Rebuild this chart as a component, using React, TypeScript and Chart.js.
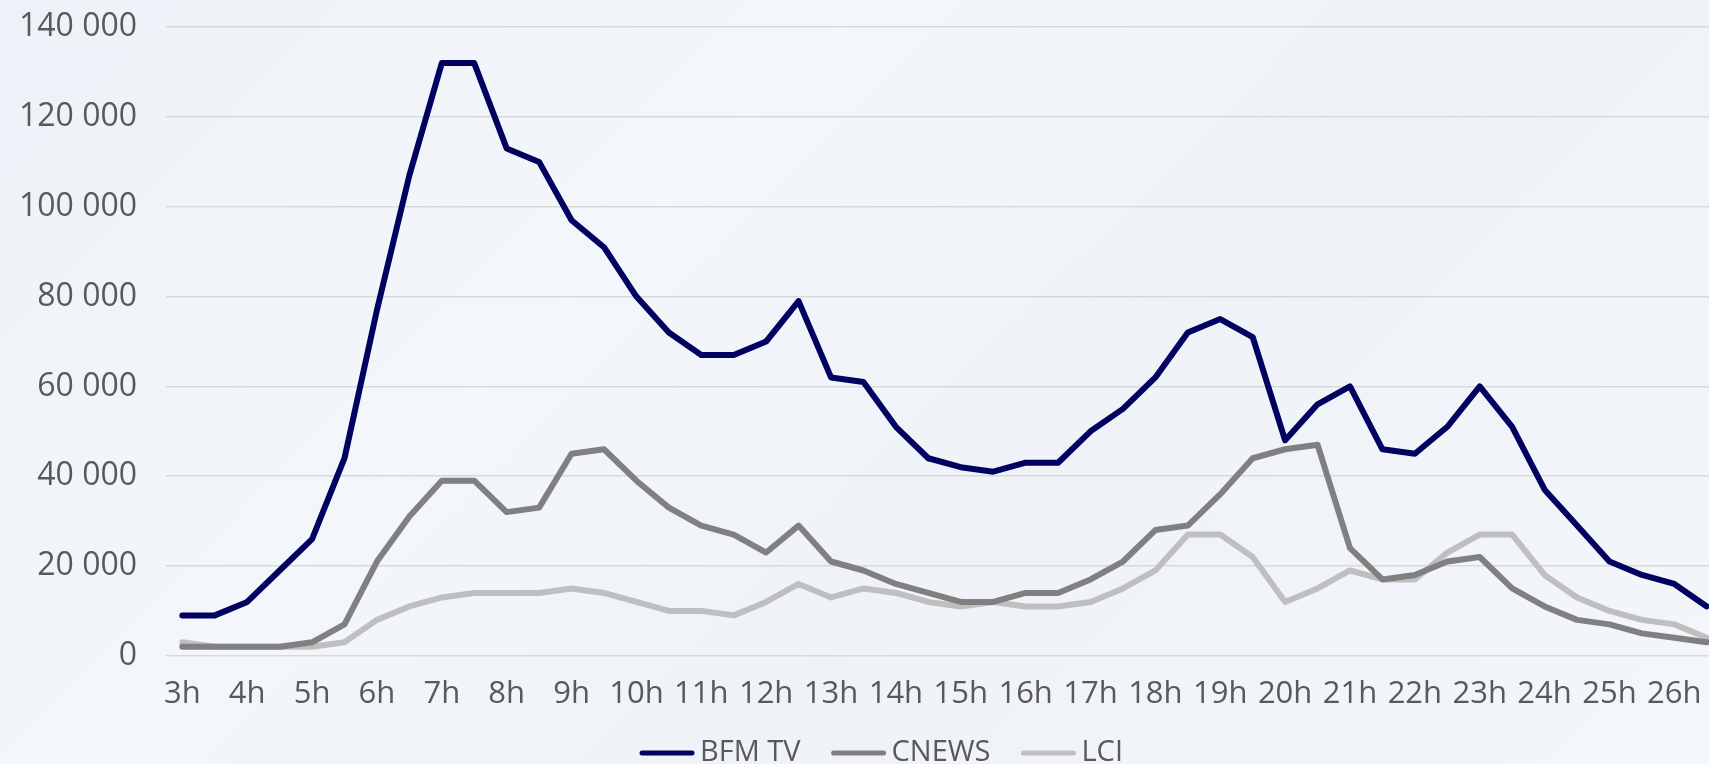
import React, { useEffect, useRef } from "react";
import { Chart, registerables } from "chart.js";

Chart.register(...registerables);

const categories = [
  "3h", "3h30", "4h", "4h30", "5h", "5h30", "6h", "6h30", "7h", "7h30",
  "8h", "8h30", "9h", "9h30", "10h", "10h30", "11h", "11h30", "12h", "12h30",
  "13h", "13h30", "14h", "14h30", "15h", "15h30", "16h", "16h30", "17h", "17h30",
  "18h", "18h30", "19h", "19h30", "20h", "20h30", "21h", "21h30", "22h", "22h30",
  "23h", "23h30", "24h", "24h30", "25h", "25h30", "26h", "26h30",
];

const bfmTV = [
  9000, 9000, 12000, 19000, 26000, 44000, 77000, 107000, 132000, 132000,
  113000, 110000, 97000, 91000, 80000, 72000, 67000, 67000, 70000, 79000,
  62000, 61000, 51000, 44000, 42000, 41000, 43000, 43000, 50000, 55000,
  62000, 72000, 75000, 71000, 48000, 56000, 60000, 46000, 45000, 51000,
  60000, 51000, 37000, 29000, 21000, 18000, 16000, 11000,
];

const cnews = [
  2000, 2000, 2000, 2000, 3000, 7000, 21000, 31000, 39000, 39000,
  32000, 33000, 45000, 46000, 39000, 33000, 29000, 27000, 23000, 29000,
  21000, 19000, 16000, 14000, 12000, 12000, 14000, 14000, 17000, 21000,
  28000, 29000, 36000, 44000, 46000, 47000, 24000, 17000, 18000, 21000,
  22000, 15000, 11000, 8000, 7000, 5000, 4000, 3000,
];

const lci = [
  3000, 2000, 2000, 2000, 2000, 3000, 8000, 11000, 13000, 14000,
  14000, 14000, 15000, 14000, 12000, 10000, 10000, 9000, 12000, 16000,
  13000, 15000, 14000, 12000, 11000, 12000, 11000, 11000, 12000, 15000,
  19000, 27000, 27000, 22000, 12000, 15000, 19000, 17000, 17000, 23000,
  27000, 27000, 18000, 13000, 10000, 8000, 7000, 4000,
];

const seriesNames = ["BFM TV", "CNEWS", "LCI"];
const seriesColors = ["#01015f", "#808080", "#bfbfbf"];

const FONT = "'Open Sans', sans-serif";

const formatThousands = (v: number) =>
  String(v).replace(/\B(?=(\d{3})+(?!\d))/g, " ");

// Legend drawn with line swatches, centred on the canvas
const lineLegend = {
  id: "lineLegend",
  afterDraw(chart: any) {
    const ctx = chart.ctx;
    const lineLen = 56;
    const gapText = 5;
    const gapItem = 30;
    const y = chart.height - 11;
    ctx.save();
    ctx.font = `29px ${FONT}`;
    ctx.textBaseline = "middle";
    ctx.textAlign = "left";
    const items = chart.data.datasets.map((ds: any) => ({
      text: ds.label,
      color: ds.borderColor,
      w: ctx.measureText(ds.label).width,
    }));
    const total =
      items.reduce((s: number, it: any) => s + lineLen + gapText + it.w, 0) +
      gapItem * (items.length - 1);
    let x = chart.width / 2 - total / 2;
    items.forEach((it: any) => {
      ctx.strokeStyle = it.color;
      ctx.lineWidth = 5;
      ctx.lineCap = "round";
      ctx.beginPath();
      ctx.moveTo(x + 3, y);
      ctx.lineTo(x + lineLen - 3, y);
      ctx.stroke();
      ctx.fillStyle = "#595959";
      ctx.fillText(it.text, x + lineLen + gapText, y);
      x += lineLen + gapText + it.w + gapItem;
    });
    ctx.restore();
  },
};

export default function App() {
  const canvasRef = useRef<HTMLCanvasElement | null>(null);

  useEffect(() => {
    document.body.style.margin = "0";
    document.body.style.overflow = "hidden";
    let chart: Chart | null = null;
    let cancelled = false;
    const build = () => {
      const canvas = canvasRef.current;
      if (!canvas || cancelled) return;
      const values = [bfmTV, cnews, lci];
      chart = new Chart(canvas, {
        type: "line",
        data: {
          labels: categories,
          datasets: seriesNames.map((name, i) => ({
            label: name,
            data: values[i],
            borderColor: seriesColors[i],
            backgroundColor: seriesColors[i],
            borderWidth: 6,
            borderCapStyle: "round" as const,
            borderJoinStyle: "round" as const,
            pointRadius: 0,
            tension: 0,
            fill: false,
          })),
        },
        options: {
          animation: false,
          responsive: false,
          maintainAspectRatio: false,
          layout: { padding: { left: 11, top: 0, right: 39, bottom: 31 } },
          plugins: {
            tooltip: { enabled: false },
            legend: { display: false },
          },
          scales: {
            x: {
              type: "category",
              offset: true,
              grid: { display: false, drawTicks: false },
              border: { display: false },
              ticks: {
                autoSkip: false,
                maxRotation: 0,
                padding: 20,
                color: "#595959",
                font: { family: FONT, size: 31 },
                callback: (_v: any, idx: number) => (idx % 2 === 0 ? categories[idx] : ""),
              },
            },
            y: {
              min: 0,
              max: 140000,
              grid: {
                color: "#d9d9d9",
                lineWidth: 1.5,
                drawTicks: true,
                tickLength: 21,
                tickColor: "rgba(0,0,0,0)",
              },
              border: { display: false },
              ticks: {
                stepSize: 20000,
                padding: 8,
                color: "#595959",
                font: { family: FONT, size: 32 },
                callback: (v: any) => formatThousands(Number(v)),
              },
            },
          },
        },
        plugins: [lineLegend],
      });
    };
    const fontsReady = (document as any).fonts
      ? Promise.all([
          (document as any).fonts.load(`32px 'Open Sans'`),
          (document as any).fonts.load(`29px 'Open Sans'`),
        ]).catch(() => null)
      : Promise.resolve(null);
    fontsReady.then(build);
    return () => {
      cancelled = true;
      if (chart) chart.destroy();
    };
  }, []);

  return (
    <div
      style={{
        position: "fixed",
        left: 0,
        top: 0,
        width: 1709,
        height: 764,
        overflow: "hidden",
        background:
          "linear-gradient(135deg, #eef2f8 0%, #f3f6fa 35%, #eff3f8 60%, #f3f6fa 100%)",
      }}
    >
      <canvas ref={canvasRef} width={1762} height={764} style={{ display: "block" }} />
    </div>
  );
}
